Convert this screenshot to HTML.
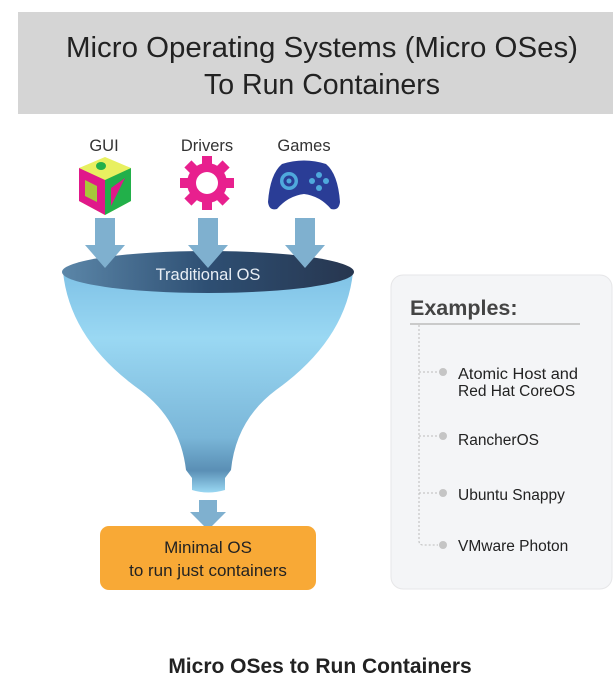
<!DOCTYPE html>
<html><head><meta charset="utf-8"><style>
body{margin:0;background:#fff;width:613px;height:692px;overflow:hidden;font-family:"Liberation Sans",sans-serif}
</style></head><body>
<svg width="613" height="692" viewBox="0 0 613 692" xmlns="http://www.w3.org/2000/svg" font-family="Liberation Sans, sans-serif">
<defs>
<linearGradient id="fun" x1="0" y1="0" x2="0" y2="1">
<stop offset="0" stop-color="#7fc2e6"/><stop offset="0.3" stop-color="#9ad8f3"/><stop offset="0.75" stop-color="#7ab6d8"/><stop offset="0.9" stop-color="#5a8fb5"/><stop offset="1" stop-color="#9ad8f3"/>
</linearGradient>
<linearGradient id="top" x1="0" y1="0" x2="1" y2="0">
<stop offset="0" stop-color="#5b86a8"/><stop offset="0.5" stop-color="#2e4f73"/><stop offset="1" stop-color="#27364f"/>
</linearGradient>
</defs>
<rect x="18" y="12" width="595" height="102" fill="#d5d5d5"/>
<text x="322" y="57" font-size="28.5" text-anchor="middle" fill="#222" textLength="512" lengthAdjust="spacingAndGlyphs">Micro Operating Systems (Micro OSes)</text>
<text x="322" y="94" font-size="28.5" text-anchor="middle" fill="#222">To Run Containers</text>

<text x="104" y="151" font-size="16.5" text-anchor="middle" fill="#333">GUI</text>
<text x="207" y="151" font-size="16.5" text-anchor="middle" fill="#333">Drivers</text>
<text x="304" y="151" font-size="16.5" text-anchor="middle" fill="#333">Games</text>

<polygon points="105,157 131,168 131,201 105,215 79,201 79,168" fill="#e8f060"/>
<polygon points="79,168 105,180 105,215 79,201" fill="#e0188a"/>
<polygon points="105,180 131,168 131,201 105,215" fill="#22b04a"/>
<ellipse cx="101" cy="166" rx="5" ry="4" fill="#22b04a"/>
<polygon points="85,180 97,186 97,202 85,196" fill="#a6c83a"/>
<polygon points="125,178 111,206 111,188" fill="#e0188a"/>
<g transform="translate(207,183)" fill="#e8208e">
<circle r="20"/>
<g><rect x="-5" y="-27" width="10" height="10"/><rect x="-5" y="17" width="10" height="10"/><rect x="-27" y="-5" width="10" height="10"/><rect x="17" y="-5" width="10" height="10"/></g>
<g transform="rotate(45)"><rect x="-5" y="-27" width="10" height="10"/><rect x="-5" y="17" width="10" height="10"/><rect x="-27" y="-5" width="10" height="10"/><rect x="17" y="-5" width="10" height="10"/></g>
<circle r="11" fill="#fff"/>
</g>
<path d="M282,164 Q304,157 326,164 Q338,174 340,202 Q339,211 331,209 Q320,196 304,194 Q288,196 277,209 Q269,211 268,202 Q270,174 282,164Z" fill="#2a3d96"/>
<circle cx="289" cy="181" r="9" fill="#4fa9dc"/><circle cx="289" cy="181" r="5.5" fill="#2a3d96"/><circle cx="289" cy="181" r="2.5" fill="#4fa9dc"/>
<circle cx="319" cy="175" r="3" fill="#4fa9dc"/><circle cx="319" cy="188" r="3" fill="#4fa9dc"/><circle cx="312" cy="181" r="3" fill="#4fa9dc"/><circle cx="326" cy="181" r="3" fill="#4fa9dc"/>

<path d="M63,272 Q70,340 140,390 Q180,420 186,470 L192,478 L192,490 Q208,495 225,490 L225,478 L231,470 Q236,420 276,390 Q346,340 353,272 Z" fill="url(#fun)"/>
<ellipse cx="208" cy="272" rx="146" ry="21" fill="url(#top)"/>
<g fill="#7fb0cf">
<polygon points="95,218 115,218 115,245 125,245 105,268 85,245 95,245"/>
<polygon points="198,218 218,218 218,245 228,245 208,268 188,245 198,245"/>
<polygon points="295,218 315,218 315,245 325,245 305,268 285,245 295,245"/>
<polygon points="199,500 217,500 217,512 226,512 208,530 190,512 199,512"/>
</g>
<text x="208" y="280" font-size="16.5" text-anchor="middle" fill="#e8eef5">Traditional OS</text>

<rect x="100" y="526" width="216" height="64" rx="9" fill="#f8a936"/>
<text x="208" y="553" font-size="17" text-anchor="middle" fill="#222">Minimal OS</text>
<text x="208" y="576" font-size="17" text-anchor="middle" fill="#222">to run just containers</text>

<rect x="391" y="275" width="221" height="314" rx="12" fill="#f4f5f7" stroke="#e6e6e8"/>
<text x="410" y="315" font-size="21.5" font-weight="bold" fill="#444">Examples:</text>
<line x1="410" y1="324" x2="580" y2="324" stroke="#bbb" stroke-width="1.5"/>
<path d="M419,325 L419,541 Q419,545 423,545 L438,545 M419,372 L438,372 M419,436 L438,436 M419,493 L438,493" stroke="#bbb" stroke-dasharray="2,2" fill="none"/>
<g fill="#c5c5c5"><circle cx="443" cy="372" r="4"/><circle cx="443" cy="436" r="4"/><circle cx="443" cy="493" r="4"/><circle cx="443" cy="545" r="4"/></g>
<g font-size="15.5" fill="#222">
<text x="458" y="379" textLength="120" lengthAdjust="spacingAndGlyphs">Atomic Host and</text>
<text x="458" y="396">Red Hat CoreOS</text>
<text x="458" y="445">RancherOS</text>
<text x="458" y="500">Ubuntu Snappy</text>
<text x="458" y="551">VMware Photon</text>
</g>
<text x="320" y="673" font-size="21" font-weight="bold" text-anchor="middle" fill="#222">Micro OSes to Run Containers</text>
</svg>
</body></html>
